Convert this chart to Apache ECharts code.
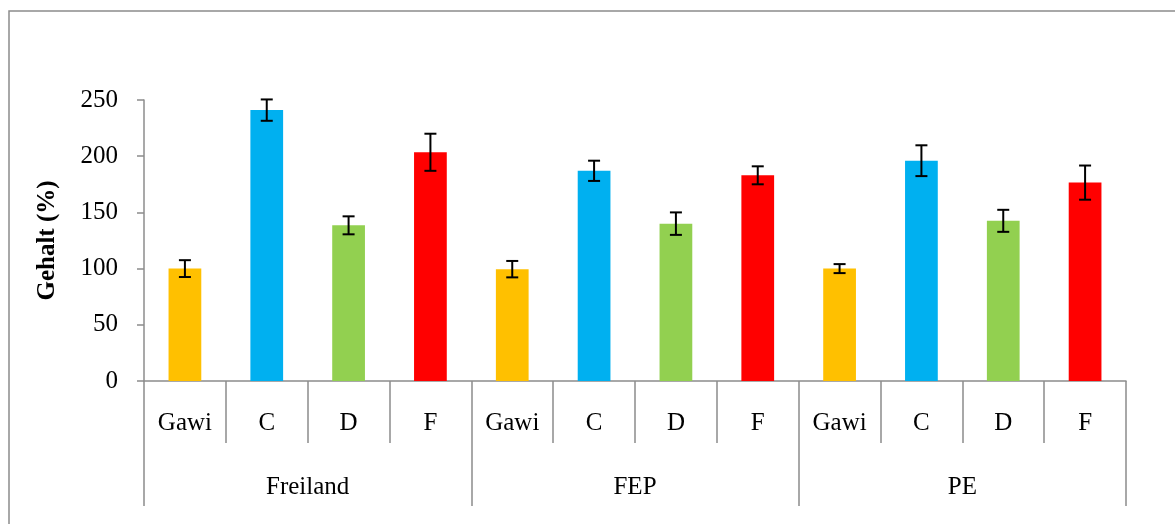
<!DOCTYPE html>
<html>
<head>
<meta charset="utf-8">
<script src="https://cdn.jsdelivr.net/npm/echarts@6/dist/echarts.min.js"></script>
<style>
  html, body { margin: 0; padding: 0; background: #fff; }
  #chart { width: 1175px; height: 524px; }
</style>
</head>
<body>
<div id="chart"></div>
<script>
// Sites (outer category level) and treatments (inner category level)
const groups = ['Freiland', 'FEP', 'PE'];
const treatments = ['Gawi', 'C', 'D', 'F'];

// Mean content (%) per site × treatment, in site order
const means = [100, 241, 138.5, 203.5, 99.5, 187, 140, 183, 100, 196, 142.5, 176.5];
// Standard deviation shown as error bars
const errors = [7.5, 9.5, 8, 16.5, 7.3, 9, 10, 8, 4, 13.7, 9.8, 15.2];

// Y axis ticks
const yMin = 0, yMax = 250, yStep = 50;

const treatmentColors = ['#FFC000', '#00B0F0', '#92D050', '#FF0000'];

const categories = [];
groups.forEach(() => treatments.forEach(t => categories.push(t)));

const FONT = '"Liberation Serif", "Times New Roman", serif';
const AXIS_GRAY = '#8c8c8c';

const chart = echarts.init(document.getElementById('chart'));

const errorData = means.map((m, i) => [i, m - errors[i], m + errors[i]]);

chart.setOption({
  animation: false,
  backgroundColor: '#fff',
  textStyle: { fontFamily: FONT, color: '#000' },
  graphic: [{
    type: 'rect',
    shape: { x: 9, y: 11, width: 1400, height: 800 },
    style: { fill: 'none', stroke: AXIS_GRAY, lineWidth: 1.5 },
    silent: true,
    z: -10
  }],
  grid: { left: 144, top: 100, right: 49, bottom: 143, containLabel: false },
  xAxis: [{
    type: 'category',
    data: categories,
    boundaryGap: true,
    axisLine: { show: true, lineStyle: { color: AXIS_GRAY, width: 1.5 } },
    axisTick: { show: true, interval: 0, length: 62, lineStyle: { color: AXIS_GRAY, width: 1.5 } },
    axisLabel: { interval: 0, margin: 30, fontFamily: FONT, fontSize: 25, color: '#000' },
    splitLine: { show: false }
  }, {
    type: 'category',
    data: groups,
    position: 'bottom',
    boundaryGap: true,
    axisLine: { show: false },
    axisTick: { show: true, interval: 0, length: 125, lineStyle: { color: AXIS_GRAY, width: 1.5 } },
    axisLabel: { interval: 0, margin: 94, fontFamily: FONT, fontSize: 25, color: '#000' },
    splitLine: { show: false }
  }],
  yAxis: {
    type: 'value',
    min: yMin,
    max: yMax,
    interval: yStep,
    name: 'Gehalt (%)',
    nameLocation: 'middle',
    nameGap: 84,
    nameTextStyle: { fontFamily: FONT, fontSize: 25, fontWeight: 'bold', color: '#000' },
    axisLine: { show: true, lineStyle: { color: AXIS_GRAY, width: 1.5 } },
    axisTick: { show: true, length: 7, lineStyle: { color: AXIS_GRAY, width: 1.5 } },
    axisLabel: { margin: 26, fontFamily: FONT, fontSize: 25, color: '#000' },
    splitLine: { show: false }
  },
  series: [{
    type: 'bar',
    xAxisIndex: 0,
    yAxisIndex: 0,
    barWidth: '40%',
    data: means,
    itemStyle: {
      color: p => treatmentColors[p.dataIndex % treatments.length]
    },
    z: 2
  }, {
    type: 'custom',
    xAxisIndex: 0,
    yAxisIndex: 0,
    data: errorData,
    z: 5,
    clip: false,
    renderItem: function (params, api) {
      const idx = api.value(0);
      const lo = api.coord([idx, api.value(1)]);
      const hi = api.coord([idx, api.value(2)]);
      const half = 6;
      const style = { stroke: '#000', lineWidth: 2, fill: 'none' };
      return {
        type: 'group',
        children: [
          { type: 'line', shape: { x1: hi[0], y1: hi[1], x2: lo[0], y2: lo[1] }, style },
          { type: 'line', shape: { x1: hi[0] - half, y1: hi[1], x2: hi[0] + half, y2: hi[1] }, style },
          { type: 'line', shape: { x1: lo[0] - half, y1: lo[1], x2: lo[0] + half, y2: lo[1] }, style }
        ]
      };
    }
  }]
});
</script>
</body>
</html>
